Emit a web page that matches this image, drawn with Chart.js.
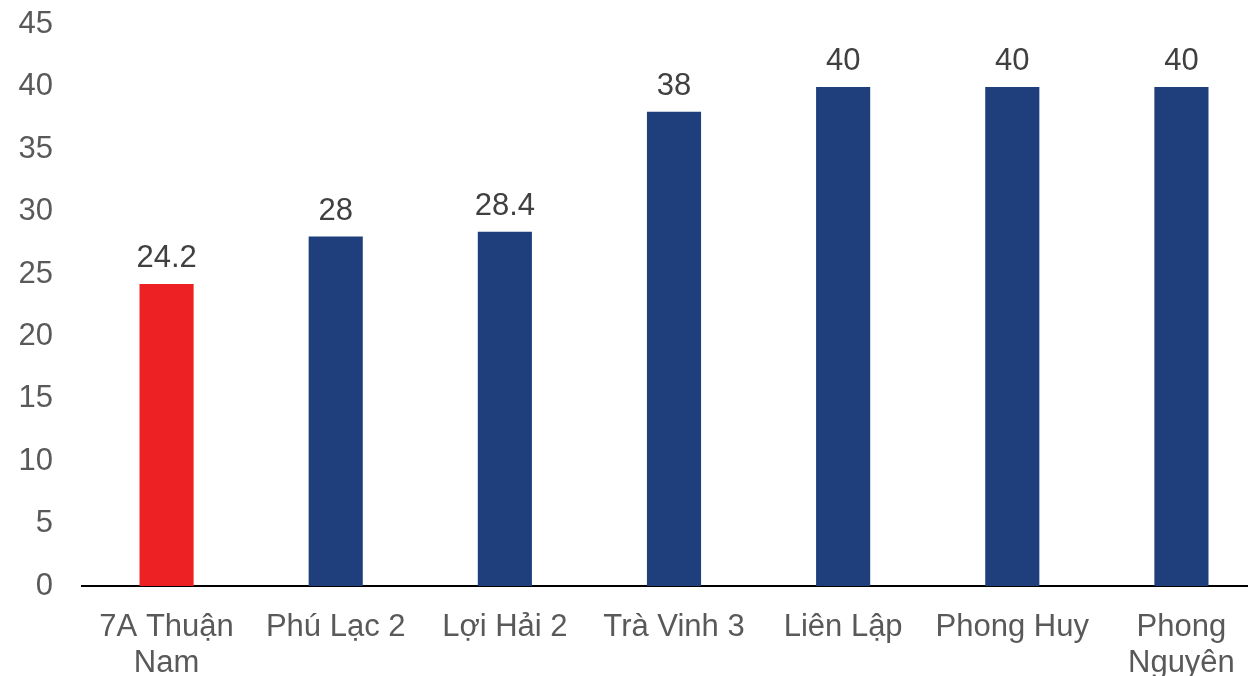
<!DOCTYPE html>
<html>
<head>
<meta charset="utf-8">
<script src="https://cdn.jsdelivr.net/npm/chart.js@4.4.0/dist/chart.umd.min.js"></script>
<style>
html,body{margin:0;padding:0;background:#fff;overflow:hidden;width:1248px;height:676px;}
#wrap{position:absolute;left:0;top:0;width:1266px;height:676px;}
</style>
</head>
<body>
<div id="wrap"><canvas id="c"></canvas></div>
<script>
const categories = [["7A Thuận","Nam"],"Phú Lạc 2","Lợi Hải 2","Trà Vinh 3","Liên Lập","Phong Huy",["Phong","Nguyên"]];
const values = [24.2, 28, 28.4, 38, 40, 40, 40];
const barColors = ["#ED2024","#1F3E7C","#1F3E7C","#1F3E7C","#1F3E7C","#1F3E7C","#1F3E7C"];
const yTicks = [0,5,10,15,20,25,30,35,40,45];

const FONT = "'Liberation Sans', Arial, sans-serif";

const valueLabels = {
  id: 'valueLabels',
  afterDatasetsDraw(chart) {
    const ctx = chart.ctx;
    const meta = chart.getDatasetMeta(0);
    ctx.save();
    ctx.font = "31px " + FONT;
    ctx.fillStyle = "#404040";
    ctx.textAlign = "center";
    ctx.textBaseline = "alphabetic";
    meta.data.forEach((el, i) => {
      ctx.fillText(String(values[i]), el.x, el.y - 17);
    });
    ctx.restore();
  }
};

new Chart(document.getElementById('c'), {
  type: 'bar',
  data: {
    labels: categories,
    datasets: [{
      data: values,
      backgroundColor: barColors,
      borderWidth: 0,
      categoryPercentage: 1,
      barPercentage: 0.32
    }]
  },
  options: {
    responsive: true,
    maintainAspectRatio: false,
    animation: false,
    layout: { padding: { top: 24.5, left: 0, right: 0, bottom: 0 } },
    plugins: { legend: { display: false }, tooltip: { enabled: false } },
    scales: {
      x: {
        grid: { display: false, drawTicks: false },
        border: { display: true, color: '#000', width: 2 },
        ticks: {
          color: '#595959',
          font: { family: FONT, size: 31, lineHeight: 1.18 },
          padding: 23,
          maxRotation: 0,
          autoSkip: false
        },
        afterFit(scale) { scale.height = 90; scale.paddingLeft = 0; scale.paddingRight = 0; }
      },
      y: {
        min: 0, max: 45,
        grid: { display: false, drawTicks: false },
        border: { display: false },
        afterBuildTicks(scale) { scale.ticks = yTicks.map(v => ({ value: v })); },
        ticks: {
          color: '#595959',
          font: { family: FONT, size: 31 },
          padding: 29
        },
        afterFit(scale) { scale.width = 82; scale.paddingTop = 0; scale.paddingBottom = 0; }
      }
    }
  },
  plugins: [valueLabels]
});
</script>
</body>
</html>
